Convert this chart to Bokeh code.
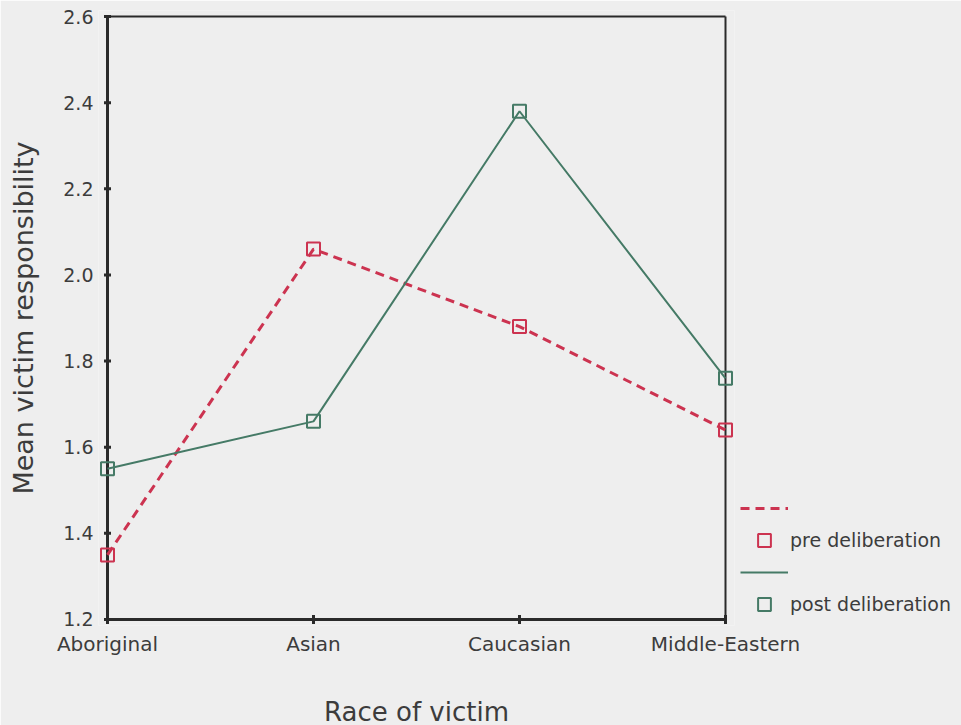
from bokeh.plotting import figure
from bokeh.models import Range1d, FixedTicker, NumeralTickFormatter, Legend, LegendItem
from bokeh.core.properties import value
from bokeh.embed import file_html
from bokeh.resources import INLINE
import math

# ---- data ----
categories = ["Aboriginal", "Asian", "Caucasian", "Middle-Eastern"]
pre_deliberation = [1.35, 2.06, 1.88, 1.64]
post_deliberation = [1.55, 1.66, 2.38, 1.76]
y_ticks = [1.2, 1.4, 1.6, 1.8, 2.0, 2.2, 2.4, 2.6]
series_names = ["pre deliberation", "post deliberation"]

# ---- style ----
RED = "#cc3350"
GREEN = "#457a66"
TXT = "#3c3c3c"
AX = "#2a2a2a"
BG = "#eeeeee"
FONT = "DejaVu Sans"

x = list(range(len(categories)))
x_first, x_last = x[0], x[-1]
y_lo, y_hi = y_ticks[0], y_ticks[-1]

px_per_x = 206.0
px_per_y = 430.7
pad_x = 9 / px_per_x
pad_y = 6 / px_per_y

p = figure(frame_width=636, frame_height=615,
           min_border_left=98, min_border_right=219, min_border_top=10, min_border_bottom=97,
           output_backend="svg", toolbar_location=None,
           x_range=Range1d(x_first - pad_x, x_last + pad_x),
           y_range=Range1d(y_lo - pad_y, y_hi + pad_y))

p.background_fill_color = BG
p.border_fill_color = BG
p.outline_line_color = None
p.xgrid.visible = False
p.ygrid.visible = False

for ax in (p.xaxis[0], p.yaxis[0]):
    ax.axis_line_color = None
    ax.major_tick_line_color = None
    ax.minor_tick_line_color = None
    ax.major_tick_out = 0
    ax.major_tick_in = 0
    ax.major_label_text_color = TXT
    ax.major_label_text_font = FONT
    ax.axis_label_text_color = TXT
    ax.axis_label_text_font = FONT
    ax.axis_label_text_font_style = "normal"

p.xaxis.ticker = FixedTicker(ticks=x)
p.xaxis.major_label_overrides = {i: c for i, c in zip(x, categories)}
p.xaxis.major_label_text_font_size = "20px"
p.xaxis.major_label_standoff = 6
p.xaxis.axis_label = "Race of victim"
p.xaxis.axis_label_text_font_size = "26px"
p.xaxis.axis_label_standoff = 38

p.yaxis.ticker = FixedTicker(ticks=y_ticks)
p.yaxis.formatter = NumeralTickFormatter(format="0.0")
p.yaxis.major_label_text_font_size = "19px"
p.yaxis.major_label_standoff = 5
p.yaxis.axis_label = "Mean victim responsibility"
p.yaxis.axis_label_text_font_size = "27px"
p.yaxis.axis_label_standoff = 21

# axis box
p.segment(x0=[x_first, x_first], y0=[y_lo, y_lo], x1=[x_first, x_last], y1=[y_hi, y_lo],
          line_color=AX, line_width=3)
p.segment(x0=[x_first, x_last], y0=[y_hi, y_lo], x1=[x_last, x_last], y1=[y_hi, y_hi],
          line_color=AX, line_width=2)
# tick nubs
p.scatter(x=[x_first] * len(y_ticks), y=y_ticks, marker="dash", size=7,
          line_color=AX, line_width=3)
p.scatter(x=x, y=[y_lo] * len(x), marker="dash", angle=math.pi / 2, size=9,
          line_color=AX, line_width=3)

# series
pre_line = p.line(x, pre_deliberation, line_color=RED, line_width=3, line_dash="9 6")
post_line = p.line(x, post_deliberation, line_color=GREEN, line_width=2)
pre_pts = p.scatter(x, pre_deliberation, marker="square", size=13, fill_color=None,
                    line_color=RED, line_width=2)
post_pts = p.scatter(x, post_deliberation, marker="square", size=13, fill_color=None,
                     line_color=GREEN, line_width=2)

legend = Legend(items=[
    LegendItem(label=value(""), renderers=[pre_line]),
    LegendItem(label=value(series_names[0]), renderers=[pre_pts]),
    LegendItem(label=value(""), renderers=[post_line]),
    LegendItem(label=value(series_names[1]), renderers=[post_pts]),
], location=(6, 5), margin=0, padding=7, spacing=0,
   glyph_width=48, glyph_height=32, label_height=32, label_standoff=2,
   label_text_font=FONT, label_text_font_size="19px", label_text_color=TXT,
   background_fill_alpha=0, border_line_color=None)
p.add_layout(legend, "right")

open("out.html", "w").write(file_html(p, INLINE))
